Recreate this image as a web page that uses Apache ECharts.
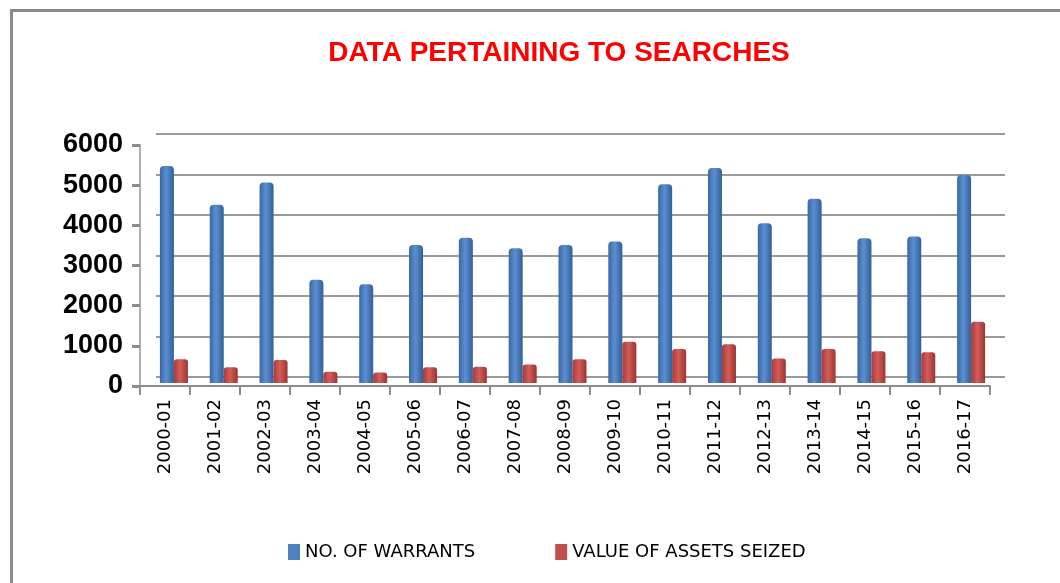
<!DOCTYPE html>
<html>
<head>
<meta charset="utf-8">
<script src="https://cdn.jsdelivr.net/npm/echarts@6/dist/echarts.min.js"></script>
<style>
  html, body { margin: 0; padding: 0; background: #fff; }
  #frame { position: absolute; left: 10px; top: 9px; width: 1050px; height: 574px;
    border-top: 3px solid #8a8a8a; border-left: 3px solid #8a8a8a; box-sizing: border-box; }
  #searchChart { position: absolute; left: 0; top: 0; width: 1060px; height: 583px; }
</style>
</head>
<body>
<div id="frame"></div>
<div id="searchChart"></div>
<script>
// 年度
const years = ['2000-01', '2001-02', '2002-03', '2003-04', '2004-05', '2005-06', '2006-07', '2007-08',
  '2008-09', '2009-10', '2010-11', '2011-12', '2012-13', '2013-14', '2014-15', '2015-16', '2016-17']
// 搜查令数量
const warrants = [5380, 4420, 4970, 2560, 2450, 3420, 3600, 3340, 3420, 3510, 4930, 5330, 3960, 4570, 3590, 3630, 5160]
// 查扣资产价值
const assetsSeized = [590, 390, 570, 280, 260, 390, 400, 460, 590, 1020, 840, 960, 610, 840, 790, 760, 1520]
const yTicks = [0, 1000, 2000, 3000, 4000, 5000, 6000]

const initSearchChart = () => {
  const blueFill = new echarts.graphic.LinearGradient(0, 0, 1, 0, [
    { offset: 0, color: '#3a67a3' },
    { offset: 0.45, color: '#5b8fd2' },
    { offset: 1, color: '#335e98' }
  ])
  const redFill = new echarts.graphic.LinearGradient(0, 0, 1, 0, [
    { offset: 0, color: '#a43c39' },
    { offset: 0.45, color: '#d45c58' },
    { offset: 1, color: '#9a3532' }
  ])
  const yMax = yTicks[yTicks.length - 1]

  const option = {
    animation: false,
    title: {
      text: 'DATA PERTAINING TO SEARCHES',
      left: 554,
      textAlign: 'center',
      top: 34,
      textStyle: { color: '#ff0000', fontSize: 28, fontWeight: 'bold', fontFamily: 'Liberation Sans' }
    },
    legend: {
      top: 538,
      left: 283,
      icon: 'rect',
      itemWidth: 12,
      itemHeight: 16,
      itemGap: 80,
      textStyle: { color: '#000', fontSize: 18, fontFamily: 'DejaVu Sans' },
      data: [
        { name: 'NO. OF WARRANTS', itemStyle: { color: '#4f81bd' } },
        { name: 'VALUE OF ASSETS SEIZED', itemStyle: { color: '#c0504d' } }
      ]
    },
    grid: [
      // back wall (gridlines)
      { left: 156, right: 55, top: 134, bottom: 206 },
      // front axes
      { left: 140, right: 70, top: 145, bottom: 197 },
      // bars
      { left: 149, right: 64, top: 141, bottom: 200 }
    ],
    xAxis: [
      { gridIndex: 0, type: 'category', data: years, show: false },
      {
        gridIndex: 1,
        type: 'category',
        data: years,
        axisLine: { lineStyle: { color: '#8c8c8c', width: 2 } },
        axisTick: { show: true, length: 9, lineStyle: { color: '#8c8c8c', width: 2 } },
        axisLabel: { rotate: 90, margin: 13, color: '#000', fontSize: 18, fontFamily: 'DejaVu Sans' }
      },
      { gridIndex: 2, type: 'category', data: years, show: false }
    ],
    yAxis: [
      {
        gridIndex: 0, type: 'value', min: 0, max: yMax, interval: 1000,
        axisLine: { show: false }, axisTick: { show: false }, axisLabel: { show: false },
        splitLine: { lineStyle: { color: '#9a9a9a', width: 2 } }
      },
      {
        gridIndex: 1, type: 'value', min: 0, max: yMax, interval: 1000,
        axisLine: { show: true, lineStyle: { color: '#b0b0b0', width: 2 } },
        axisTick: { show: true, length: 8, lineStyle: { color: '#8c8c8c', width: 3 } },
        axisLabel: {
          margin: 17, color: '#000', fontSize: 27, fontWeight: 'bold', fontFamily: 'Liberation Sans',
          formatter: (v) => String(v)
        },
        splitLine: { show: false }
      },
      { gridIndex: 2, type: 'value', min: 0, max: yMax, show: false, splitLine: { show: false } }
    ],
    series: [
      {
        name: 'NO. OF WARRANTS',
        type: 'bar',
        xAxisIndex: 2,
        yAxisIndex: 2,
        barWidth: 14,
        barGap: '0%',
        itemStyle: { color: blueFill, borderRadius: [4, 4, 0, 0] },
        data: warrants
      },
      {
        name: 'VALUE OF ASSETS SEIZED',
        type: 'bar',
        xAxisIndex: 2,
        yAxisIndex: 2,
        barWidth: 14,
        barGap: '0%',
        itemStyle: { color: redFill, borderRadius: [3, 3, 0, 0] },
        data: assetsSeized
      }
    ]
  }

  const myChart = echarts.init(document.getElementById('searchChart'))
  option && myChart.setOption(option)
}
initSearchChart()
</script>
</body>
</html>
